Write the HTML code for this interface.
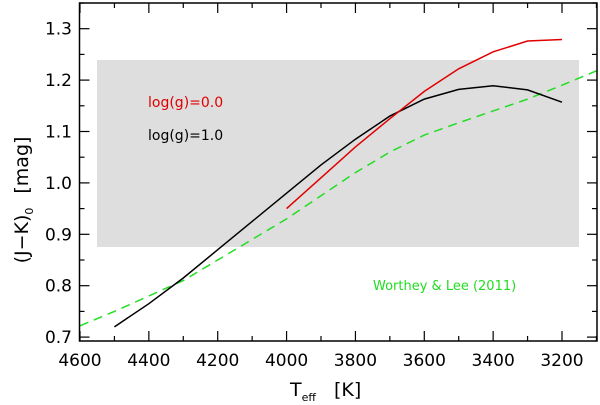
<!DOCTYPE html>
<html><head><meta charset="utf-8"><style>
body{margin:0;background:#fff}
svg{display:block;font-family:"DejaVu Sans","Liberation Sans",sans-serif}
</style></head><body>
<svg id="c" width="600" height="405">
<rect x="97" y="60" width="482" height="187" fill="#dedede"/>
<g id="marks"></g>
<rect x="79.5" y="3" width="517.5" height="338" fill="none" stroke="#000" stroke-width="1.5"/>
<g id="ticks"></g>
<text x="148" y="107" fill="#e00000" font-size="14">log(g)=0.0</text>
<text x="148" y="140" fill="#000" font-size="14">log(g)=1.0</text>
<text x="373" y="290" fill="#22dd22" font-size="13">Worthey &amp; Lee (2011)</text>
<text x="290" y="396" font-size="19">T<tspan font-size="11" dy="5">eff</tspan><tspan dy="-5" dx="18">[K]</tspan></text>
<text transform="translate(28,200) rotate(-90)" text-anchor="middle" font-size="19">(J−K)<tspan font-size="11" dy="5">0</tspan><tspan dy="-5" dx="14">[mag]</tspan></text>
</svg>
<script>
const xTicks=[4600,4400,4200,4000,3800,3600,3400,3200];
const yTicks=[0.7,0.8,0.9,1.0,1.1,1.2,1.3];
const blackT=[4500,4400,4300,4200,4100,4000,3900,3800,3700,3600,3500,3400,3300,3200];
const blackV=[0.72,0.765,0.815,0.87,0.925,0.98,1.035,1.085,1.13,1.163,1.182,1.189,1.181,1.157];
const redT=[4000,3900,3800,3700,3600,3500,3400,3300,3200];
const redV=[0.95,1.01,1.07,1.125,1.178,1.222,1.255,1.276,1.279];
const greenT=[4600,4500,4400,4300,4200,4100,4000,3900,3800,3700,3600,3500,3400,3300,3200,3100];
const greenV=[0.722,0.75,0.78,0.81,0.85,0.89,0.93,0.975,1.02,1.06,1.093,1.117,1.14,1.163,1.19,1.218];
const X=t=>80+(4600-t)*482/1400;
const Y=v=>28.7+(1.3-v)*514;
const NS="http://www.w3.org/2000/svg";
const marks=document.getElementById('marks'),tk=document.getElementById('ticks');
function line(T,V,col,dash,name){
  const p=document.createElementNS(NS,'polyline');
  p.setAttribute('points',T.map((t,i)=>X(t)+','+Y(V[i])).join(' '));
  p.setAttribute('fill','none');p.setAttribute('stroke',col);p.setAttribute('stroke-width','1.5');
  if(dash)p.setAttribute('stroke-dasharray',dash);
  
  
  marks.appendChild(p);
}
line(greenT,greenV,'#22dd22','9,6','worthey-lee-line');
line(blackT,blackV,'#000',null,'logg1-line');
line(redT,redV,'#e00000',null,'logg0-line');
function seg(x1,y1,x2,y2){const l=document.createElementNS(NS,'line');l.setAttribute('x1',x1);l.setAttribute('y1',y1);l.setAttribute('x2',x2);l.setAttribute('y2',y2);l.setAttribute('stroke','#000');l.setAttribute('stroke-width','1.2');


tk.appendChild(l);}
for(let t=4600;t>=3100;t-=100){const x=X(t),L=(t%200===0)?10:5;seg(x,341,x,341-L);seg(x,3,x,3+L);}
for(let v=0.7;v<=1.351;v+=0.05){const y=Y(v),L=(Math.round(v*100)%10===0)?10:5;seg(79.5,y,79.5+L,y);seg(597,y,597-L,y);}
xTicks.forEach(t=>{const e=document.createElementNS(NS,'text');e.setAttribute('x',X(t));e.setAttribute('y',366);e.setAttribute('text-anchor','middle');e.setAttribute('font-size','17');e.textContent=t;


tk.appendChild(e);});
yTicks.forEach(v=>{const e=document.createElementNS(NS,'text');e.setAttribute('x',72);e.setAttribute('y',Y(v)+6);e.setAttribute('text-anchor','end');e.setAttribute('font-size','17');e.textContent=v.toFixed(1);


tk.appendChild(e);});
</script>
</body></html>
